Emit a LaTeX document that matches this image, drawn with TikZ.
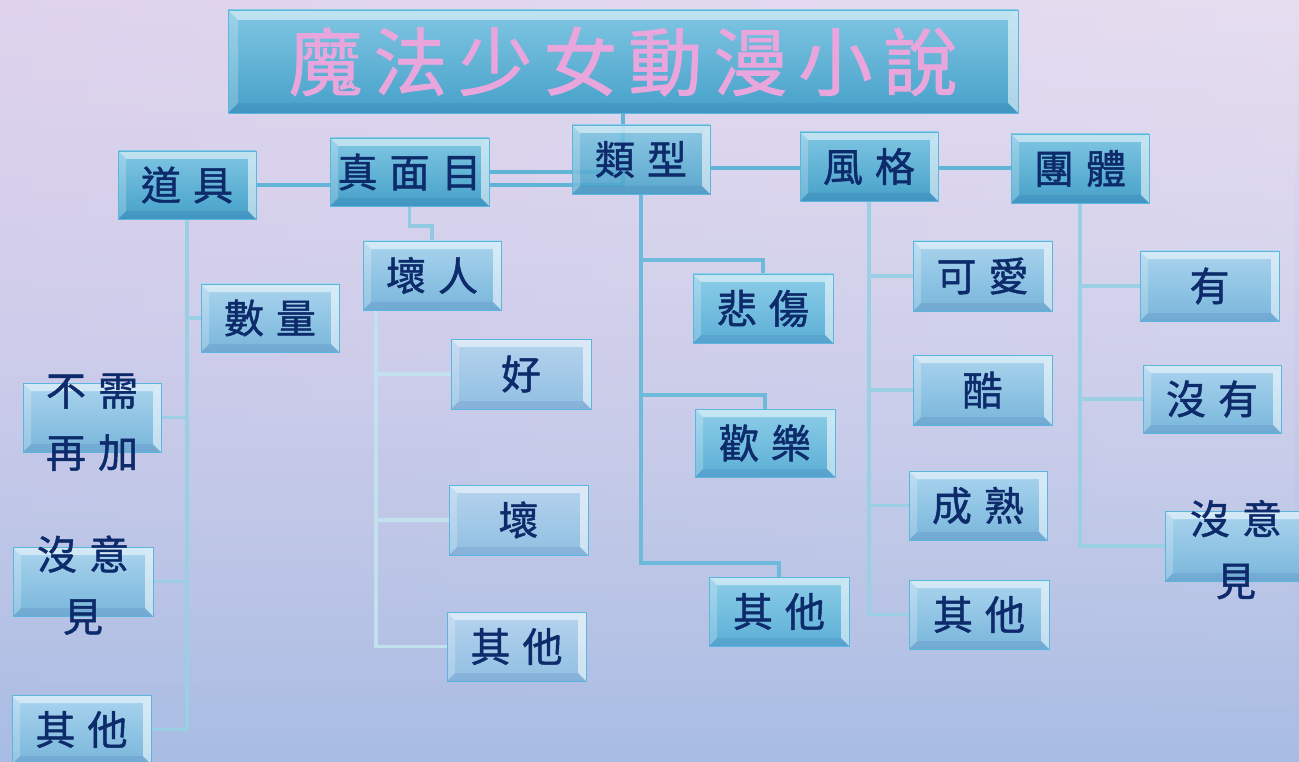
\documentclass[tikz,border=0pt]{standalone}
\usepackage{fontspec}
\newfontfamily\cjk[FakeBold=1.2]{Noto Sans CJK TC}
\usetikzlibrary{calc,fadings}
\definecolor{bgT}{HTML}{E6DDF0}
\definecolor{bgM}{HTML}{D9D8EE}
\definecolor{bgB}{HTML}{A8BCE3}
\definecolor{bgL}{HTML}{D6C6EA}
\definecolor{navy}{HTML}{0D2B6B}
\definecolor{pinkt}{HTML}{E8A6DC}
\definecolor{edge}{HTML}{5BB5DC}
\definecolor{cat}{HTML}{80C6E3}
\definecolor{cab}{HTML}{46A1C9}
\definecolor{cbt}{HTML}{8DCDE8}
\definecolor{cbb}{HTML}{5BAFD6}
\definecolor{cct}{HTML}{AAD4EE}
\definecolor{ccb}{HTML}{78B6DB}
\definecolor{cdt}{HTML}{B6D3EE}
\definecolor{cdb}{HTML}{90BFE2}
\definecolor{lnA}{HTML}{62B4D7}
\definecolor{lnB}{HTML}{6DBADB}
\definecolor{lnC}{HTML}{9BCFE3}
\definecolor{lnD}{HTML}{C3E0EE}
\pgfdeclarelayer{bg}
\pgfdeclarelayer{ln}
\pgfsetlayers{bg,ln,main}
\newcommand\gp{\hspace{12pt}}
\newcommand\tg{\hspace{11pt}}
\newcommand\mkbox[7]{\node[#1, minimum width={#5-#3}, minimum height={#6-#4}] (#2) at ({(#3+#5)/2},{(#4+#6)/2}) {#7};}
\newcommand\twoline[2]{\raisebox{-12.8pt}[0pt][0pt]{\begin{tabular}{@{}c@{}}#1\\#2\end{tabular}}}
\tikzset{
  bev/.style={path picture={
    \coordinate (bl) at (path picture bounding box.south west);
    \coordinate (tr) at (path picture bounding box.north east);
    \coordinate (tl) at (path picture bounding box.north west);
    \coordinate (br) at (path picture bounding box.south east);
    \fill[white,opacity=.5] (tl) -- (tr) -- ([shift={(-#1,-#1)}]tr) -- ([shift={(#1,-#1)}]tl) -- cycle;
    \fill[white,opacity=.22] (tl) -- ([shift={(#1,-#1)}]tl) -- ([shift={(#1,#1)}]bl) -- (bl) -- cycle;
    \fill[white,opacity=.55] (tr) -- ([shift={(-#1,-#1)}]tr) -- ([shift={(-#1,#1)}]br) -- (br) -- cycle;
    \fill[black!60!blue,opacity=.07] (bl) -- ([shift={(#1,#1)}]bl) -- ([shift={(-#1,#1)}]br) -- (br) -- cycle;
  }},
  box/.style={inner sep=0pt, outer sep=0pt, font=\cjk\fontsize{40}{62}\selectfont,
    text=navy, draw=edge, line width=0.8pt, bev=8pt},
  lva/.style={box, top color=cat, bottom color=cab},
  lvb/.style={box, top color=cbt, bottom color=cbb},
  lvc/.style={box, top color=cct, bottom color=ccb},
  lvd/.style={box, top color=cdt, bottom color=cdb},
  cn/.style={line width=#1},
}
\begin{document}
\begin{tikzpicture}[x=1pt,y=-1pt]
\useasboundingbox (0,0) rectangle (1299,762);
\begin{pgfonlayer}{bg}
\shade[top color=bgT, middle color=bgM, bottom color=bgB] (0,0) rectangle (1299,762);
\shade[left color=bgL, right color=bgT, opacity=.45, path fading=south] (0,0) rectangle (1299,762);
\end{pgfonlayer}
% ---------- boxes ----------
\mkbox{lva, font=\cjk\fontsize{74}{80}\selectfont, text=pinkt, bev=10pt}{title}{228}{10}{1018}{113}{魔\tg 法\tg 少\tg 女\tg 動\tg 漫\tg 小\tg 說}
\mkbox{lva}{daoju}{118}{151}{256}{219}{道\gp 具}
\mkbox{lva}{zhen}{330}{138}{489}{206}{真\gp 面\gp 目}
\mkbox{lva, fill opacity=.85, text opacity=1}{leixing}{572}{125}{710}{194}{類\gp 型}
\mkbox{lva}{fengge}{800}{132}{938}{201}{風\gp 格}
\mkbox{lva}{tuanti}{1011}{134}{1149}{203}{團\gp 體}
\mkbox{lvc}{shuliang}{201}{284}{339}{352}{數\gp 量}
\mkbox{lvc}{buxu}{23}{383}{161}{452}{\twoline{不\gp 需}{再\gp 加}}
\mkbox{lvc}{myjL}{13}{547}{153}{616}{\twoline{沒\gp 意}{見}}
\mkbox{lvc}{qtA}{12}{695}{151}{764}{其\gp 他}
\mkbox{lvc}{huairen}{363}{241}{501}{310}{壞\gp 人}
\mkbox{lvd}{hao}{451}{339}{591}{409}{好}
\mkbox{lvd}{huai}{449}{485}{588}{555}{壞}
\mkbox{lvd}{qtB}{447}{612}{586}{681}{其\gp 他}
\mkbox{lvb}{beishang}{693}{274}{833}{343}{悲\gp 傷}
\mkbox{lvb}{huanle}{695}{409}{835}{477}{歡\gp 樂}
\mkbox{lvb}{qtC}{709}{577}{849}{646}{其\gp 他}
\mkbox{lvc}{keai}{913}{241}{1052}{311}{可\gp 愛}
\mkbox{lvc}{ku}{913}{355}{1052}{425}{酷}
\mkbox{lvc}{chengshu}{909}{471}{1047}{540}{成\gp 熟}
\mkbox{lvc}{qtD}{909}{580}{1049}{649}{其\gp 他}
\mkbox{lvc}{you}{1140}{251}{1279}{321}{有}
\mkbox{lvc}{meiyou}{1143}{365}{1281}{433}{沒\gp 有}
\mkbox{lvc}{myjR}{1165}{511}{1307}{581}{\twoline{沒\gp 意}{見}}
% ---------- connectors (behind the boxes) ----------
\begin{pgfonlayer}{ln}
\draw[cn=4pt, lnA] (title.south) |- (zhen.east);
\draw[cn=4pt, lnA] (title.south) |- (daoju.east);
\draw[cn=4pt, lnA] (leixing.east |- 0,168) -- (fengge.west |- 0,168);
\draw[cn=4pt, lnA] (fengge.east |- 0,168) -- (tuanti.west |- 0,168);
% 道具
\foreach \t in {shuliang.west, buxu.east, myjL.east, qtA.east}
  \draw[cn=3.5pt, lnC] (daoju.south) |- (\t);
% 真面目 -> 壞人
\draw[cn=3.5pt, lnC!80!lnA] (zhen.south) -- ++(0,20) -| (huairen.north);
% 壞人
\coordinate (hb) at ($(huairen.south west)+(13pt,0)$);
\foreach \t in {hao.west, huai.west, qtB.west}
  \draw[cn=3.5pt, lnD] (hb) |- (\t);
% 類型
\foreach \t in {beishang, huanle, qtC}
  \draw[cn=4pt, lnB] (leixing.south) |- ([yshift=14pt]\t.north) -- (\t.north);
% 風格
\foreach \t in {keai, ku, chengshu, qtD}
  \draw[cn=3.5pt, lnC] (fengge.south) |- (\t.west);
% 團體
\foreach \t in {you, meiyou, myjR}
  \draw[cn=3.5pt, lnC] (tuanti.south) |- (\t.west);
\end{pgfonlayer}
\end{tikzpicture}
\end{document}
